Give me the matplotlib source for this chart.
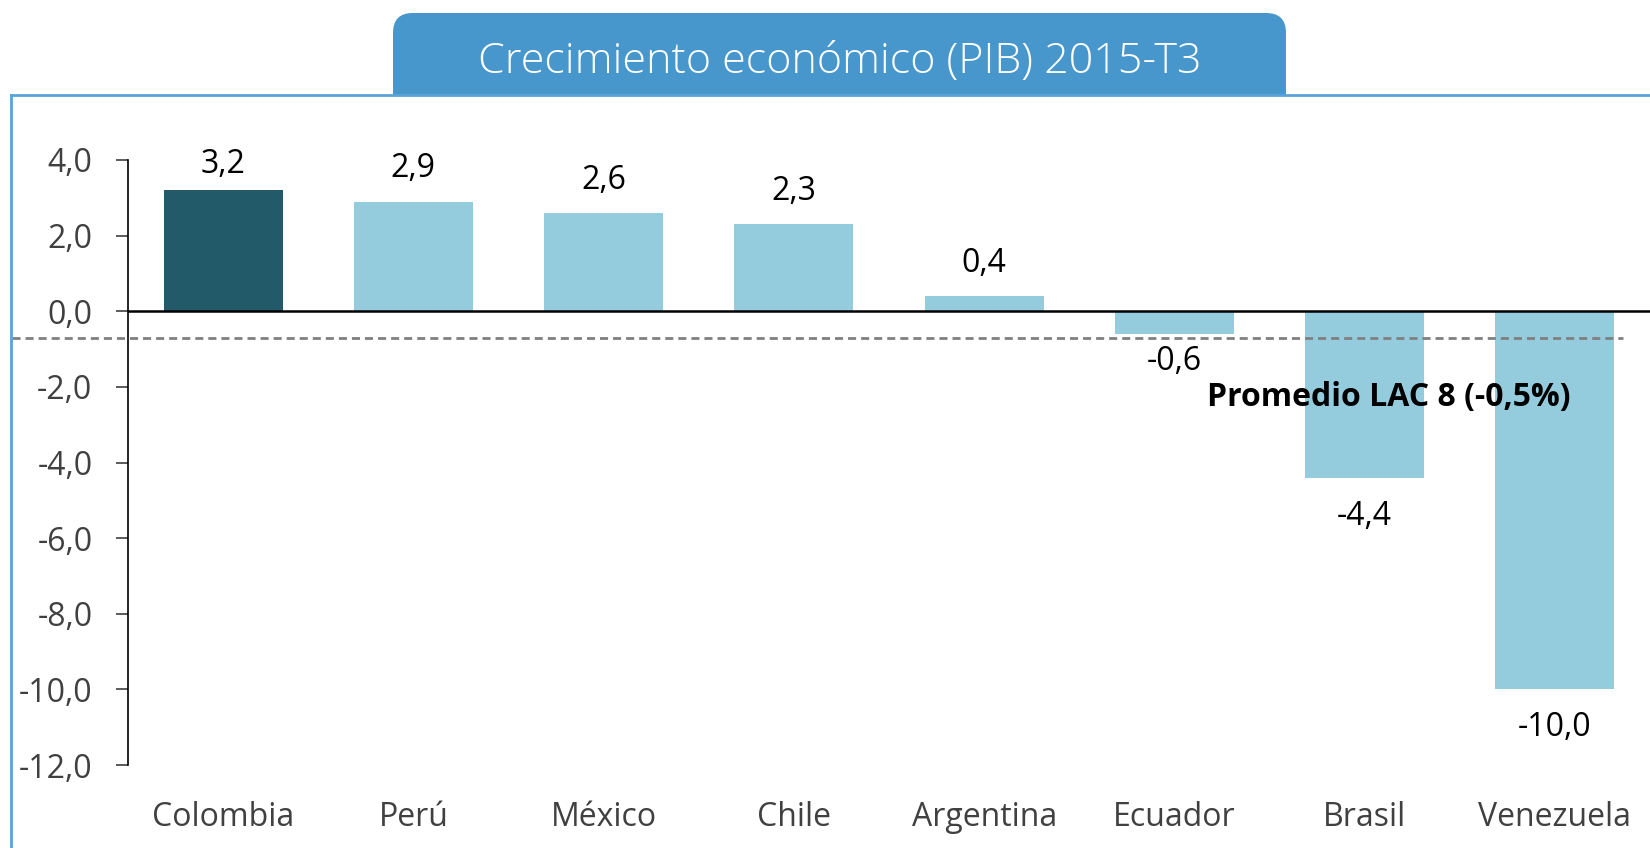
import matplotlib.pyplot as plt
from matplotlib.patches import FancyBboxPatch, Rectangle
from matplotlib.lines import Line2D

# datos
paises = ['Colombia', 'Perú', 'México', 'Chile', 'Argentina', 'Ecuador', 'Brasil', 'Venezuela']
crecimiento = [3.2, 2.9, 2.6, 2.3, 0.4, -0.6, -4.4, -10.0]
promedio_linea = -0.7
promedio_texto = 'Promedio LAC 8 (-0,5%)'
titulo = 'Crecimiento económico (PIB) 2015-T3'
y_ticks = [4, 2, 0, -2, -4, -6, -8, -10, -12]

plt.rcParams['font.family'] = ['Open Sans', 'DejaVu Sans']

W, H = 1650, 848
fig = plt.figure(figsize=(W / 100, H / 100), dpi=100)


def fx(px):
    return px / W


def fy(py):
    return 1 - py / H


# marco y caja del titulo
azul_marco = '#5AA3D8'
azul_titulo = '#4797CC'
fig.add_artist(Line2D([fx(10.5), fx(10.5)], [fy(95), fy(848)], color=azul_marco, lw=2))
fig.add_artist(Line2D([fx(10.5), fx(1650)], [fy(95), fy(95)], color=azul_marco, lw=2))
fig.add_artist(FancyBboxPatch((fx(393), fy(70)), fx(1286) - fx(393), fy(13) - fy(70),
                              boxstyle='round,pad=0,rounding_size=0.012',
                              fc=azul_titulo, ec='none', mutation_aspect=W / H))
fig.add_artist(Rectangle((fx(393), fy(96)), fx(1286) - fx(393), fy(40) - fy(96),
                         fc=azul_titulo, ec='none'))
fig.text(fx(840), fy(62), titulo, color='white', fontsize=31, fontweight='light',
         ha='center', va='center')

ax = fig.add_axes([fx(128), fy(765), fx(1650) - fx(128), fy(160) - fy(765)])

colores = ['#225A69'] + ['#95CCDD'] * (len(paises) - 1)
x = range(len(paises))
ax.bar(x, crecimiento, width=0.625, color=colores, zorder=2)

ax.axhline(0, color='black', lw=1.8, zorder=3)
ax.plot([-1.11, 7.36], [promedio_linea, promedio_linea], color='#808080', lw=2,
        ls=(0, (2.9, 1.8)), zorder=4, clip_on=False)

# etiquetas de valor (desplazamiento en unidades del eje)
for i, v in enumerate(crecimiento):
    etiqueta = f'{v:.1f}'.replace('.', ',')
    if v >= 0:
        ypos = min(v + 0.87, 3.88)
    elif v > promedio_linea:
        ypos = v - 0.72
    else:
        ypos = v - 1.02
    ax.text(i, ypos, etiqueta, ha='center', va='center', fontsize=23, color='black')

ax.text(5.17, -2.29, promedio_texto, fontsize=23, fontweight='bold', color='black',
        ha='left', va='center', zorder=5)

ax.set_xlim(-0.5, 7.5)
ax.set_ylim(-12, 4)
ax.set_yticks(y_ticks)
ax.set_yticklabels([f'{t:.1f}'.replace('.', ',') for t in y_ticks])
ax.set_xticks(list(x))
ax.set_xticklabels(paises)

for s in ['top', 'right', 'bottom']:
    ax.spines[s].set_visible(False)
ax.spines['left'].set_linewidth(1.2)
ax.tick_params(axis='y', length=8.6, width=1.2, color='#404040', pad=17,
               labelsize=23, labelcolor='#404040')
ax.tick_params(axis='x', length=0, pad=26, labelsize=23, labelcolor='#404040')

fig.savefig('out.png', dpi=100)
